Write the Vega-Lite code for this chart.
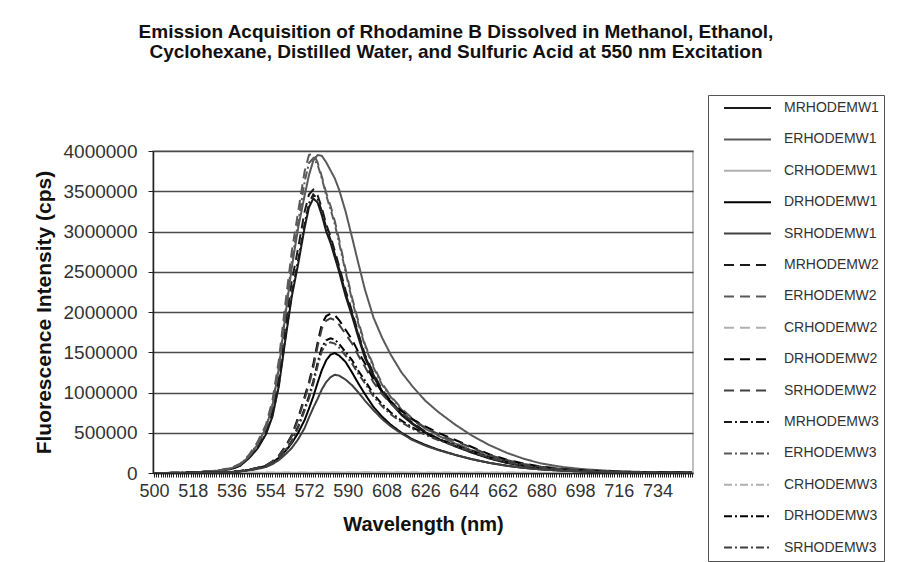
{
"$schema": "https://vega.github.io/schema/vega-lite/v6.json",
"width": 540, "height": 322,
"autosize": {"type": "none"},
"padding": {"left": 153, "top": 151, "right": 218, "bottom": 89},
"background": "white",
"config": {
 "font": "Liberation Sans",
 "view": {"stroke": "#aaaaaa", "strokeWidth": 1.5},
 "legend": {"orient": "none", "legendX": 555, "legendY": -56, "symbolType": "stroke", "symbolSize": 2209, "symbolStrokeWidth": 2, "labelFontSize": 14, "labelColor": "#333333", "labelOffset": 12, "clipHeight": 16, "rowPadding": 15.4, "padding": 5, "symbolOffset": 10, "strokeColor": "#555555", "labelLimit": 300}
},
"title": {"text": ["Emission Acquisition of Rhodamine B Dissolved in Methanol, Ethanol,", "Cyclohexane, Distilled Water, and Sulfuric Acid at 550 nm Excitation"], "fontSize": 19, "fontWeight": "bold", "color": "#111111", "anchor": "middle", "dx": 33, "offset": 33, "lineHeight": 20},
"data": {"values": [
{"s":"CRHODEMW1","w":500,"v":0},{"s":"CRHODEMW1","w":550,"v":3000},{"s":"CRHODEMW1","w":600,"v":6000},{"s":"CRHODEMW1","w":650,"v":3000},{"s":"CRHODEMW1","w":700,"v":1000},{"s":"CRHODEMW1","w":750,"v":0},
{"s":"CRHODEMW2","w":500,"v":0},{"s":"CRHODEMW2","w":550,"v":2000},{"s":"CRHODEMW2","w":600,"v":5000},{"s":"CRHODEMW2","w":650,"v":2000},{"s":"CRHODEMW2","w":700,"v":1000},{"s":"CRHODEMW2","w":750,"v":0},
{"s":"CRHODEMW3","w":500,"v":0},{"s":"CRHODEMW3","w":550,"v":2000},{"s":"CRHODEMW3","w":600,"v":4000},{"s":"CRHODEMW3","w":650,"v":2000},{"s":"CRHODEMW3","w":700,"v":1000},{"s":"CRHODEMW3","w":750,"v":0},
{"s":"MRHODEMW1","w":500,"v":0},{"s":"MRHODEMW1","w":510,"v":2000},{"s":"MRHODEMW1","w":520,"v":8000},{"s":"MRHODEMW1","w":530,"v":25000},{"s":"MRHODEMW1","w":536,"v":50000},{"s":"MRHODEMW1","w":540,"v":90000},{"s":"MRHODEMW1","w":544,"v":180000},{"s":"MRHODEMW1","w":548,"v":300000},{"s":"MRHODEMW1","w":552,"v":480000},{"s":"MRHODEMW1","w":555,"v":700000},{"s":"MRHODEMW1","w":558,"v":1080000},{"s":"MRHODEMW1","w":561,"v":1650000},{"s":"MRHODEMW1","w":564,"v":2190000},{"s":"MRHODEMW1","w":567,"v":2600000},{"s":"MRHODEMW1","w":570,"v":3050000},{"s":"MRHODEMW1","w":572,"v":3300000},{"s":"MRHODEMW1","w":574,"v":3410000},{"s":"MRHODEMW1","w":576,"v":3360000},{"s":"MRHODEMW1","w":578,"v":3200000},{"s":"MRHODEMW1","w":580,"v":3000000},{"s":"MRHODEMW1","w":582,"v":2860000},{"s":"MRHODEMW1","w":584,"v":2680000},{"s":"MRHODEMW1","w":586,"v":2500000},{"s":"MRHODEMW1","w":589,"v":2200000},{"s":"MRHODEMW1","w":592,"v":1950000},{"s":"MRHODEMW1","w":595,"v":1680000},{"s":"MRHODEMW1","w":598,"v":1430000},{"s":"MRHODEMW1","w":602,"v":1200000},{"s":"MRHODEMW1","w":606,"v":1000000},{"s":"MRHODEMW1","w":610,"v":870000},{"s":"MRHODEMW1","w":615,"v":720000},{"s":"MRHODEMW1","w":620,"v":610000},{"s":"MRHODEMW1","w":626,"v":500000},{"s":"MRHODEMW1","w":632,"v":420000},{"s":"MRHODEMW1","w":640,"v":330000},{"s":"MRHODEMW1","w":648,"v":250000},{"s":"MRHODEMW1","w":656,"v":180000},{"s":"MRHODEMW1","w":664,"v":125000},{"s":"MRHODEMW1","w":672,"v":88000},{"s":"MRHODEMW1","w":680,"v":60000},{"s":"MRHODEMW1","w":690,"v":38000},{"s":"MRHODEMW1","w":700,"v":24000},{"s":"MRHODEMW1","w":715,"v":13000},{"s":"MRHODEMW1","w":730,"v":7000},{"s":"MRHODEMW1","w":750,"v":3000},
{"s":"MRHODEMW2","w":500,"v":0},{"s":"MRHODEMW2","w":510,"v":2200},{"s":"MRHODEMW2","w":520,"v":9000},{"s":"MRHODEMW2","w":530,"v":28000},{"s":"MRHODEMW2","w":536,"v":56000},{"s":"MRHODEMW2","w":540,"v":100000},{"s":"MRHODEMW2","w":544,"v":200000},{"s":"MRHODEMW2","w":548,"v":330000},{"s":"MRHODEMW2","w":552,"v":530000},{"s":"MRHODEMW2","w":555,"v":780000},{"s":"MRHODEMW2","w":558,"v":1200000},{"s":"MRHODEMW2","w":561,"v":1820000},{"s":"MRHODEMW2","w":564,"v":2380000},{"s":"MRHODEMW2","w":567,"v":2800000},{"s":"MRHODEMW2","w":570,"v":3250000},{"s":"MRHODEMW2","w":572,"v":3460000},{"s":"MRHODEMW2","w":574,"v":3520000},{"s":"MRHODEMW2","w":576,"v":3450000},{"s":"MRHODEMW2","w":578,"v":3290000},{"s":"MRHODEMW2","w":580,"v":3090000},{"s":"MRHODEMW2","w":582,"v":2940000},{"s":"MRHODEMW2","w":584,"v":2760000},{"s":"MRHODEMW2","w":586,"v":2570000},{"s":"MRHODEMW2","w":589,"v":2270000},{"s":"MRHODEMW2","w":592,"v":2010000},{"s":"MRHODEMW2","w":595,"v":1730000},{"s":"MRHODEMW2","w":598,"v":1470000},{"s":"MRHODEMW2","w":602,"v":1240000},{"s":"MRHODEMW2","w":606,"v":1030000},{"s":"MRHODEMW2","w":610,"v":900000},{"s":"MRHODEMW2","w":615,"v":740000},{"s":"MRHODEMW2","w":620,"v":630000},{"s":"MRHODEMW2","w":626,"v":515000},{"s":"MRHODEMW2","w":632,"v":430000},{"s":"MRHODEMW2","w":640,"v":340000},{"s":"MRHODEMW2","w":648,"v":258000},{"s":"MRHODEMW2","w":656,"v":185000},{"s":"MRHODEMW2","w":664,"v":129000},{"s":"MRHODEMW2","w":672,"v":90000},{"s":"MRHODEMW2","w":680,"v":62000},{"s":"MRHODEMW2","w":690,"v":39000},{"s":"MRHODEMW2","w":700,"v":25000},{"s":"MRHODEMW2","w":715,"v":13000},{"s":"MRHODEMW2","w":730,"v":7000},{"s":"MRHODEMW2","w":750,"v":3000},
{"s":"MRHODEMW3","w":500,"v":0},{"s":"MRHODEMW3","w":510,"v":2000},{"s":"MRHODEMW3","w":520,"v":8000},{"s":"MRHODEMW3","w":530,"v":26000},{"s":"MRHODEMW3","w":536,"v":51000},{"s":"MRHODEMW3","w":540,"v":92000},{"s":"MRHODEMW3","w":544,"v":185000},{"s":"MRHODEMW3","w":548,"v":305000},{"s":"MRHODEMW3","w":552,"v":490000},{"s":"MRHODEMW3","w":555,"v":715000},{"s":"MRHODEMW3","w":558,"v":1100000},{"s":"MRHODEMW3","w":561,"v":1680000},{"s":"MRHODEMW3","w":564,"v":2230000},{"s":"MRHODEMW3","w":567,"v":2650000},{"s":"MRHODEMW3","w":570,"v":3100000},{"s":"MRHODEMW3","w":572,"v":3350000},{"s":"MRHODEMW3","w":574,"v":3460000},{"s":"MRHODEMW3","w":576,"v":3410000},{"s":"MRHODEMW3","w":578,"v":3250000},{"s":"MRHODEMW3","w":580,"v":3050000},{"s":"MRHODEMW3","w":582,"v":2900000},{"s":"MRHODEMW3","w":584,"v":2720000},{"s":"MRHODEMW3","w":586,"v":2540000},{"s":"MRHODEMW3","w":589,"v":2230000},{"s":"MRHODEMW3","w":592,"v":1980000},{"s":"MRHODEMW3","w":595,"v":1710000},{"s":"MRHODEMW3","w":598,"v":1450000},{"s":"MRHODEMW3","w":602,"v":1220000},{"s":"MRHODEMW3","w":606,"v":1015000},{"s":"MRHODEMW3","w":610,"v":880000},{"s":"MRHODEMW3","w":615,"v":730000},{"s":"MRHODEMW3","w":620,"v":620000},{"s":"MRHODEMW3","w":626,"v":508000},{"s":"MRHODEMW3","w":632,"v":426000},{"s":"MRHODEMW3","w":640,"v":335000},{"s":"MRHODEMW3","w":648,"v":254000},{"s":"MRHODEMW3","w":656,"v":183000},{"s":"MRHODEMW3","w":664,"v":127000},{"s":"MRHODEMW3","w":672,"v":89000},{"s":"MRHODEMW3","w":680,"v":61000},{"s":"MRHODEMW3","w":690,"v":39000},{"s":"MRHODEMW3","w":700,"v":24000},{"s":"MRHODEMW3","w":715,"v":13000},{"s":"MRHODEMW3","w":730,"v":7000},{"s":"MRHODEMW3","w":750,"v":3000},
{"s":"ERHODEMW1","w":500,"v":0},{"s":"ERHODEMW1","w":510,"v":2500},{"s":"ERHODEMW1","w":520,"v":10000},{"s":"ERHODEMW1","w":530,"v":30000},{"s":"ERHODEMW1","w":536,"v":60000},{"s":"ERHODEMW1","w":540,"v":105000},{"s":"ERHODEMW1","w":544,"v":200000},{"s":"ERHODEMW1","w":548,"v":350000},{"s":"ERHODEMW1","w":552,"v":560000},{"s":"ERHODEMW1","w":555,"v":830000},{"s":"ERHODEMW1","w":558,"v":1300000},{"s":"ERHODEMW1","w":561,"v":1950000},{"s":"ERHODEMW1","w":564,"v":2550000},{"s":"ERHODEMW1","w":567,"v":3050000},{"s":"ERHODEMW1","w":570,"v":3450000},{"s":"ERHODEMW1","w":572,"v":3700000},{"s":"ERHODEMW1","w":574,"v":3880000},{"s":"ERHODEMW1","w":576,"v":3950000},{"s":"ERHODEMW1","w":578,"v":3940000},{"s":"ERHODEMW1","w":580,"v":3860000},{"s":"ERHODEMW1","w":582,"v":3760000},{"s":"ERHODEMW1","w":584,"v":3660000},{"s":"ERHODEMW1","w":586,"v":3520000},{"s":"ERHODEMW1","w":589,"v":3250000},{"s":"ERHODEMW1","w":592,"v":2930000},{"s":"ERHODEMW1","w":595,"v":2600000},{"s":"ERHODEMW1","w":598,"v":2280000},{"s":"ERHODEMW1","w":602,"v":1930000},{"s":"ERHODEMW1","w":606,"v":1680000},{"s":"ERHODEMW1","w":610,"v":1470000},{"s":"ERHODEMW1","w":615,"v":1250000},{"s":"ERHODEMW1","w":620,"v":1080000},{"s":"ERHODEMW1","w":626,"v":900000},{"s":"ERHODEMW1","w":632,"v":760000},{"s":"ERHODEMW1","w":640,"v":600000},{"s":"ERHODEMW1","w":648,"v":460000},{"s":"ERHODEMW1","w":656,"v":345000},{"s":"ERHODEMW1","w":664,"v":250000},{"s":"ERHODEMW1","w":672,"v":175000},{"s":"ERHODEMW1","w":680,"v":118000},{"s":"ERHODEMW1","w":690,"v":74000},{"s":"ERHODEMW1","w":700,"v":46000},{"s":"ERHODEMW1","w":715,"v":22000},{"s":"ERHODEMW1","w":730,"v":11000},{"s":"ERHODEMW1","w":750,"v":5000},
{"s":"ERHODEMW2","w":500,"v":0},{"s":"ERHODEMW2","w":510,"v":2500},{"s":"ERHODEMW2","w":520,"v":10000},{"s":"ERHODEMW2","w":530,"v":32000},{"s":"ERHODEMW2","w":536,"v":65000},{"s":"ERHODEMW2","w":540,"v":115000},{"s":"ERHODEMW2","w":544,"v":220000},{"s":"ERHODEMW2","w":548,"v":380000},{"s":"ERHODEMW2","w":552,"v":600000},{"s":"ERHODEMW2","w":555,"v":900000},{"s":"ERHODEMW2","w":558,"v":1400000},{"s":"ERHODEMW2","w":561,"v":2100000},{"s":"ERHODEMW2","w":564,"v":2750000},{"s":"ERHODEMW2","w":567,"v":3250000},{"s":"ERHODEMW2","w":570,"v":3750000},{"s":"ERHODEMW2","w":572,"v":3950000},{"s":"ERHODEMW2","w":574,"v":3970000},{"s":"ERHODEMW2","w":576,"v":3860000},{"s":"ERHODEMW2","w":578,"v":3680000},{"s":"ERHODEMW2","w":580,"v":3480000},{"s":"ERHODEMW2","w":582,"v":3320000},{"s":"ERHODEMW2","w":584,"v":3130000},{"s":"ERHODEMW2","w":586,"v":2900000},{"s":"ERHODEMW2","w":589,"v":2530000},{"s":"ERHODEMW2","w":592,"v":2180000},{"s":"ERHODEMW2","w":595,"v":1880000},{"s":"ERHODEMW2","w":598,"v":1600000},{"s":"ERHODEMW2","w":602,"v":1330000},{"s":"ERHODEMW2","w":606,"v":1110000},{"s":"ERHODEMW2","w":610,"v":960000},{"s":"ERHODEMW2","w":615,"v":800000},{"s":"ERHODEMW2","w":620,"v":680000},{"s":"ERHODEMW2","w":626,"v":560000},{"s":"ERHODEMW2","w":632,"v":470000},{"s":"ERHODEMW2","w":640,"v":370000},{"s":"ERHODEMW2","w":648,"v":280000},{"s":"ERHODEMW2","w":656,"v":205000},{"s":"ERHODEMW2","w":664,"v":145000},{"s":"ERHODEMW2","w":672,"v":100000},{"s":"ERHODEMW2","w":680,"v":70000},{"s":"ERHODEMW2","w":690,"v":44000},{"s":"ERHODEMW2","w":700,"v":28000},{"s":"ERHODEMW2","w":715,"v":15000},{"s":"ERHODEMW2","w":730,"v":8000},{"s":"ERHODEMW2","w":750,"v":3500},
{"s":"ERHODEMW3","w":500,"v":0},{"s":"ERHODEMW3","w":510,"v":2400},{"s":"ERHODEMW3","w":520,"v":9500},{"s":"ERHODEMW3","w":530,"v":30000},{"s":"ERHODEMW3","w":536,"v":61000},{"s":"ERHODEMW3","w":540,"v":108000},{"s":"ERHODEMW3","w":544,"v":207000},{"s":"ERHODEMW3","w":548,"v":358000},{"s":"ERHODEMW3","w":552,"v":565000},{"s":"ERHODEMW3","w":555,"v":850000},{"s":"ERHODEMW3","w":558,"v":1320000},{"s":"ERHODEMW3","w":561,"v":1990000},{"s":"ERHODEMW3","w":564,"v":2620000},{"s":"ERHODEMW3","w":567,"v":3120000},{"s":"ERHODEMW3","w":570,"v":3620000},{"s":"ERHODEMW3","w":572,"v":3850000},{"s":"ERHODEMW3","w":574,"v":3910000},{"s":"ERHODEMW3","w":576,"v":3830000},{"s":"ERHODEMW3","w":578,"v":3660000},{"s":"ERHODEMW3","w":580,"v":3450000},{"s":"ERHODEMW3","w":582,"v":3280000},{"s":"ERHODEMW3","w":584,"v":3090000},{"s":"ERHODEMW3","w":586,"v":2860000},{"s":"ERHODEMW3","w":589,"v":2500000},{"s":"ERHODEMW3","w":592,"v":2150000},{"s":"ERHODEMW3","w":595,"v":1850000},{"s":"ERHODEMW3","w":598,"v":1580000},{"s":"ERHODEMW3","w":602,"v":1310000},{"s":"ERHODEMW3","w":606,"v":1095000},{"s":"ERHODEMW3","w":610,"v":945000},{"s":"ERHODEMW3","w":615,"v":790000},{"s":"ERHODEMW3","w":620,"v":670000},{"s":"ERHODEMW3","w":626,"v":552000},{"s":"ERHODEMW3","w":632,"v":463000},{"s":"ERHODEMW3","w":640,"v":365000},{"s":"ERHODEMW3","w":648,"v":276000},{"s":"ERHODEMW3","w":656,"v":202000},{"s":"ERHODEMW3","w":664,"v":143000},{"s":"ERHODEMW3","w":672,"v":99000},{"s":"ERHODEMW3","w":680,"v":69000},{"s":"ERHODEMW3","w":690,"v":43000},{"s":"ERHODEMW3","w":700,"v":28000},{"s":"ERHODEMW3","w":715,"v":15000},{"s":"ERHODEMW3","w":730,"v":8000},{"s":"ERHODEMW3","w":750,"v":3500},
{"s":"DRHODEMW1","w":500,"v":0},{"s":"DRHODEMW1","w":510,"v":800},{"s":"DRHODEMW1","w":520,"v":2500},{"s":"DRHODEMW1","w":530,"v":7000},{"s":"DRHODEMW1","w":536,"v":13000},{"s":"DRHODEMW1","w":540,"v":22000},{"s":"DRHODEMW1","w":544,"v":38000},{"s":"DRHODEMW1","w":548,"v":60000},{"s":"DRHODEMW1","w":552,"v":90000},{"s":"DRHODEMW1","w":555,"v":130000},{"s":"DRHODEMW1","w":558,"v":190000},{"s":"DRHODEMW1","w":561,"v":270000},{"s":"DRHODEMW1","w":564,"v":370000},{"s":"DRHODEMW1","w":567,"v":500000},{"s":"DRHODEMW1","w":570,"v":660000},{"s":"DRHODEMW1","w":572,"v":800000},{"s":"DRHODEMW1","w":574,"v":950000},{"s":"DRHODEMW1","w":576,"v":1120000},{"s":"DRHODEMW1","w":578,"v":1280000},{"s":"DRHODEMW1","w":580,"v":1400000},{"s":"DRHODEMW1","w":582,"v":1470000},{"s":"DRHODEMW1","w":584,"v":1490000},{"s":"DRHODEMW1","w":586,"v":1460000},{"s":"DRHODEMW1","w":589,"v":1380000},{"s":"DRHODEMW1","w":592,"v":1250000},{"s":"DRHODEMW1","w":595,"v":1110000},{"s":"DRHODEMW1","w":598,"v":980000},{"s":"DRHODEMW1","w":602,"v":820000},{"s":"DRHODEMW1","w":606,"v":700000},{"s":"DRHODEMW1","w":610,"v":600000},{"s":"DRHODEMW1","w":615,"v":500000},{"s":"DRHODEMW1","w":620,"v":420000},{"s":"DRHODEMW1","w":626,"v":350000},{"s":"DRHODEMW1","w":632,"v":290000},{"s":"DRHODEMW1","w":640,"v":225000},{"s":"DRHODEMW1","w":648,"v":170000},{"s":"DRHODEMW1","w":656,"v":125000},{"s":"DRHODEMW1","w":664,"v":90000},{"s":"DRHODEMW1","w":672,"v":63000},{"s":"DRHODEMW1","w":680,"v":44000},{"s":"DRHODEMW1","w":690,"v":28000},{"s":"DRHODEMW1","w":700,"v":18000},{"s":"DRHODEMW1","w":715,"v":10000},{"s":"DRHODEMW1","w":730,"v":5000},{"s":"DRHODEMW1","w":750,"v":2000},
{"s":"DRHODEMW2","w":500,"v":0},{"s":"DRHODEMW2","w":510,"v":1000},{"s":"DRHODEMW2","w":520,"v":3000},{"s":"DRHODEMW2","w":530,"v":8000},{"s":"DRHODEMW2","w":536,"v":15000},{"s":"DRHODEMW2","w":540,"v":26000},{"s":"DRHODEMW2","w":544,"v":42000},{"s":"DRHODEMW2","w":548,"v":65000},{"s":"DRHODEMW2","w":552,"v":95000},{"s":"DRHODEMW2","w":555,"v":145000},{"s":"DRHODEMW2","w":558,"v":215000},{"s":"DRHODEMW2","w":561,"v":330000},{"s":"DRHODEMW2","w":564,"v":470000},{"s":"DRHODEMW2","w":567,"v":690000},{"s":"DRHODEMW2","w":570,"v":950000},{"s":"DRHODEMW2","w":572,"v":1130000},{"s":"DRHODEMW2","w":574,"v":1350000},{"s":"DRHODEMW2","w":576,"v":1620000},{"s":"DRHODEMW2","w":578,"v":1850000},{"s":"DRHODEMW2","w":580,"v":1950000},{"s":"DRHODEMW2","w":582,"v":1980000},{"s":"DRHODEMW2","w":584,"v":1960000},{"s":"DRHODEMW2","w":586,"v":1900000},{"s":"DRHODEMW2","w":589,"v":1780000},{"s":"DRHODEMW2","w":592,"v":1660000},{"s":"DRHODEMW2","w":595,"v":1500000},{"s":"DRHODEMW2","w":598,"v":1360000},{"s":"DRHODEMW2","w":602,"v":1160000},{"s":"DRHODEMW2","w":606,"v":1010000},{"s":"DRHODEMW2","w":610,"v":890000},{"s":"DRHODEMW2","w":615,"v":770000},{"s":"DRHODEMW2","w":620,"v":670000},{"s":"DRHODEMW2","w":626,"v":580000},{"s":"DRHODEMW2","w":632,"v":500000},{"s":"DRHODEMW2","w":640,"v":410000},{"s":"DRHODEMW2","w":648,"v":320000},{"s":"DRHODEMW2","w":656,"v":230000},{"s":"DRHODEMW2","w":664,"v":165000},{"s":"DRHODEMW2","w":672,"v":115000},{"s":"DRHODEMW2","w":680,"v":80000},{"s":"DRHODEMW2","w":690,"v":50000},{"s":"DRHODEMW2","w":700,"v":32000},{"s":"DRHODEMW2","w":715,"v":17000},{"s":"DRHODEMW2","w":730,"v":9000},{"s":"DRHODEMW2","w":750,"v":4000},
{"s":"DRHODEMW3","w":500,"v":0},{"s":"DRHODEMW3","w":510,"v":850},{"s":"DRHODEMW3","w":520,"v":2500},{"s":"DRHODEMW3","w":530,"v":6800},{"s":"DRHODEMW3","w":536,"v":12700},{"s":"DRHODEMW3","w":540,"v":22000},{"s":"DRHODEMW3","w":544,"v":35500},{"s":"DRHODEMW3","w":548,"v":55000},{"s":"DRHODEMW3","w":552,"v":80000},{"s":"DRHODEMW3","w":555,"v":122500},{"s":"DRHODEMW3","w":558,"v":181700},{"s":"DRHODEMW3","w":561,"v":278900},{"s":"DRHODEMW3","w":564,"v":397000},{"s":"DRHODEMW3","w":567,"v":583000},{"s":"DRHODEMW3","w":570,"v":802800},{"s":"DRHODEMW3","w":572,"v":954900},{"s":"DRHODEMW3","w":574,"v":1140800},{"s":"DRHODEMW3","w":576,"v":1368900},{"s":"DRHODEMW3","w":578,"v":1563300},{"s":"DRHODEMW3","w":580,"v":1647800},{"s":"DRHODEMW3","w":582,"v":1673100},{"s":"DRHODEMW3","w":584,"v":1656200},{"s":"DRHODEMW3","w":586,"v":1605500},{"s":"DRHODEMW3","w":589,"v":1504100},{"s":"DRHODEMW3","w":592,"v":1402700},{"s":"DRHODEMW3","w":595,"v":1267500},{"s":"DRHODEMW3","w":598,"v":1149200},{"s":"DRHODEMW3","w":602,"v":980200},{"s":"DRHODEMW3","w":606,"v":853500},{"s":"DRHODEMW3","w":610,"v":752100},{"s":"DRHODEMW3","w":615,"v":650700},{"s":"DRHODEMW3","w":620,"v":566200},{"s":"DRHODEMW3","w":626,"v":490100},{"s":"DRHODEMW3","w":632,"v":422500},{"s":"DRHODEMW3","w":640,"v":346500},{"s":"DRHODEMW3","w":648,"v":270400},{"s":"DRHODEMW3","w":656,"v":194400},{"s":"DRHODEMW3","w":664,"v":139400},{"s":"DRHODEMW3","w":672,"v":97200},{"s":"DRHODEMW3","w":680,"v":67600},{"s":"DRHODEMW3","w":690,"v":42300},{"s":"DRHODEMW3","w":700,"v":27000},{"s":"DRHODEMW3","w":715,"v":14400},{"s":"DRHODEMW3","w":730,"v":7600},{"s":"DRHODEMW3","w":750,"v":3400},
{"s":"SRHODEMW1","w":500,"v":0},{"s":"SRHODEMW1","w":510,"v":700},{"s":"SRHODEMW1","w":520,"v":2000},{"s":"SRHODEMW1","w":530,"v":6000},{"s":"SRHODEMW1","w":536,"v":11000},{"s":"SRHODEMW1","w":540,"v":19000},{"s":"SRHODEMW1","w":544,"v":32000},{"s":"SRHODEMW1","w":548,"v":50000},{"s":"SRHODEMW1","w":552,"v":75000},{"s":"SRHODEMW1","w":555,"v":110000},{"s":"SRHODEMW1","w":558,"v":160000},{"s":"SRHODEMW1","w":561,"v":230000},{"s":"SRHODEMW1","w":564,"v":310000},{"s":"SRHODEMW1","w":567,"v":420000},{"s":"SRHODEMW1","w":570,"v":560000},{"s":"SRHODEMW1","w":572,"v":690000},{"s":"SRHODEMW1","w":574,"v":810000},{"s":"SRHODEMW1","w":576,"v":920000},{"s":"SRHODEMW1","w":578,"v":1040000},{"s":"SRHODEMW1","w":580,"v":1130000},{"s":"SRHODEMW1","w":582,"v":1190000},{"s":"SRHODEMW1","w":584,"v":1220000},{"s":"SRHODEMW1","w":586,"v":1210000},{"s":"SRHODEMW1","w":589,"v":1160000},{"s":"SRHODEMW1","w":592,"v":1090000},{"s":"SRHODEMW1","w":595,"v":1000000},{"s":"SRHODEMW1","w":598,"v":900000},{"s":"SRHODEMW1","w":602,"v":780000},{"s":"SRHODEMW1","w":606,"v":670000},{"s":"SRHODEMW1","w":610,"v":580000},{"s":"SRHODEMW1","w":615,"v":490000},{"s":"SRHODEMW1","w":620,"v":410000},{"s":"SRHODEMW1","w":626,"v":340000},{"s":"SRHODEMW1","w":632,"v":285000},{"s":"SRHODEMW1","w":640,"v":225000},{"s":"SRHODEMW1","w":648,"v":170000},{"s":"SRHODEMW1","w":656,"v":125000},{"s":"SRHODEMW1","w":664,"v":90000},{"s":"SRHODEMW1","w":672,"v":63000},{"s":"SRHODEMW1","w":680,"v":44000},{"s":"SRHODEMW1","w":690,"v":28000},{"s":"SRHODEMW1","w":700,"v":18000},{"s":"SRHODEMW1","w":715,"v":10000},{"s":"SRHODEMW1","w":730,"v":5000},{"s":"SRHODEMW1","w":750,"v":2000},
{"s":"SRHODEMW2","w":500,"v":0},{"s":"SRHODEMW2","w":510,"v":1000},{"s":"SRHODEMW2","w":520,"v":2900},{"s":"SRHODEMW2","w":530,"v":7800},{"s":"SRHODEMW2","w":536,"v":14500},{"s":"SRHODEMW2","w":540,"v":25000},{"s":"SRHODEMW2","w":544,"v":41000},{"s":"SRHODEMW2","w":548,"v":63000},{"s":"SRHODEMW2","w":552,"v":92000},{"s":"SRHODEMW2","w":555,"v":141000},{"s":"SRHODEMW2","w":558,"v":209000},{"s":"SRHODEMW2","w":561,"v":320000},{"s":"SRHODEMW2","w":564,"v":456000},{"s":"SRHODEMW2","w":567,"v":669000},{"s":"SRHODEMW2","w":570,"v":922000},{"s":"SRHODEMW2","w":572,"v":1096000},{"s":"SRHODEMW2","w":574,"v":1310000},{"s":"SRHODEMW2","w":576,"v":1571000},{"s":"SRHODEMW2","w":578,"v":1795000},{"s":"SRHODEMW2","w":580,"v":1892000},{"s":"SRHODEMW2","w":582,"v":1921000},{"s":"SRHODEMW2","w":584,"v":1901000},{"s":"SRHODEMW2","w":586,"v":1843000},{"s":"SRHODEMW2","w":589,"v":1727000},{"s":"SRHODEMW2","w":592,"v":1610000},{"s":"SRHODEMW2","w":595,"v":1455000},{"s":"SRHODEMW2","w":598,"v":1319000},{"s":"SRHODEMW2","w":602,"v":1125000},{"s":"SRHODEMW2","w":606,"v":980000},{"s":"SRHODEMW2","w":610,"v":863000},{"s":"SRHODEMW2","w":615,"v":747000},{"s":"SRHODEMW2","w":620,"v":650000},{"s":"SRHODEMW2","w":626,"v":563000},{"s":"SRHODEMW2","w":632,"v":485000},{"s":"SRHODEMW2","w":640,"v":398000},{"s":"SRHODEMW2","w":648,"v":310000},{"s":"SRHODEMW2","w":656,"v":223000},{"s":"SRHODEMW2","w":664,"v":160000},{"s":"SRHODEMW2","w":672,"v":112000},{"s":"SRHODEMW2","w":680,"v":78000},{"s":"SRHODEMW2","w":690,"v":49000},{"s":"SRHODEMW2","w":700,"v":31000},{"s":"SRHODEMW2","w":715,"v":16500},{"s":"SRHODEMW2","w":730,"v":8700},{"s":"SRHODEMW2","w":750,"v":3900},
{"s":"SRHODEMW3","w":500,"v":0},{"s":"SRHODEMW3","w":510,"v":820},{"s":"SRHODEMW3","w":520,"v":2460},{"s":"SRHODEMW3","w":530,"v":6560},{"s":"SRHODEMW3","w":536,"v":12300},{"s":"SRHODEMW3","w":540,"v":21300},{"s":"SRHODEMW3","w":544,"v":34400},{"s":"SRHODEMW3","w":548,"v":53300},{"s":"SRHODEMW3","w":552,"v":77900},{"s":"SRHODEMW3","w":555,"v":118900},{"s":"SRHODEMW3","w":558,"v":176300},{"s":"SRHODEMW3","w":561,"v":270600},{"s":"SRHODEMW3","w":564,"v":385400},{"s":"SRHODEMW3","w":567,"v":565800},{"s":"SRHODEMW3","w":570,"v":779000},{"s":"SRHODEMW3","w":572,"v":926600},{"s":"SRHODEMW3","w":574,"v":1107000},{"s":"SRHODEMW3","w":576,"v":1328400},{"s":"SRHODEMW3","w":578,"v":1517000},{"s":"SRHODEMW3","w":580,"v":1599000},{"s":"SRHODEMW3","w":582,"v":1623600},{"s":"SRHODEMW3","w":584,"v":1607200},{"s":"SRHODEMW3","w":586,"v":1558000},{"s":"SRHODEMW3","w":589,"v":1459600},{"s":"SRHODEMW3","w":592,"v":1361200},{"s":"SRHODEMW3","w":595,"v":1230000},{"s":"SRHODEMW3","w":598,"v":1115200},{"s":"SRHODEMW3","w":602,"v":951200},{"s":"SRHODEMW3","w":606,"v":828200},{"s":"SRHODEMW3","w":610,"v":729800},{"s":"SRHODEMW3","w":615,"v":631400},{"s":"SRHODEMW3","w":620,"v":549400},{"s":"SRHODEMW3","w":626,"v":475600},{"s":"SRHODEMW3","w":632,"v":410000},{"s":"SRHODEMW3","w":640,"v":336200},{"s":"SRHODEMW3","w":648,"v":262400},{"s":"SRHODEMW3","w":656,"v":188600},{"s":"SRHODEMW3","w":664,"v":135300},{"s":"SRHODEMW3","w":672,"v":94300},{"s":"SRHODEMW3","w":680,"v":65600},{"s":"SRHODEMW3","w":690,"v":41000},{"s":"SRHODEMW3","w":700,"v":26200},{"s":"SRHODEMW3","w":715,"v":13900},{"s":"SRHODEMW3","w":730,"v":7400},{"s":"SRHODEMW3","w":750,"v":3300}
]},
"mark": {"type": "line", "strokeWidth": 2, "clip": true},
"encoding": {
 "x": {"field": "w", "type": "quantitative", "title": "Wavelength (nm)",
  "scale": {"domain": [499.5, 750.5], "nice": false, "zero": false},
  "axis": {"values": [500,501,502,503,504,505,506,507,508,509,510,511,512,513,514,515,516,517,518,519,520,521,522,523,524,525,526,527,528,529,530,531,532,533,534,535,536,537,538,539,540,541,542,543,544,545,546,547,548,549,550,551,552,553,554,555,556,557,558,559,560,561,562,563,564,565,566,567,568,569,570,571,572,573,574,575,576,577,578,579,580,581,582,583,584,585,586,587,588,589,590,591,592,593,594,595,596,597,598,599,600,601,602,603,604,605,606,607,608,609,610,611,612,613,614,615,616,617,618,619,620,621,622,623,624,625,626,627,628,629,630,631,632,633,634,635,636,637,638,639,640,641,642,643,644,645,646,647,648,649,650,651,652,653,654,655,656,657,658,659,660,661,662,663,664,665,666,667,668,669,670,671,672,673,674,675,676,677,678,679,680,681,682,683,684,685,686,687,688,689,690,691,692,693,694,695,696,697,698,699,700,701,702,703,704,705,706,707,708,709,710,711,712,713,714,715,716,717,718,719,720,721,722,723,724,725,726,727,728,729,730,731,732,733,734,735,736,737,738,739,740,741,742,743,744,745,746,747,748,749,750],
   "format": "d", "labelExpr": "(datum.value - 500) % 18 === 0 && datum.value <= 734 ? datum.label : ''",
   "labelOverlap": false, "labelFlush": false, "labelBound": false, "grid": false,
   "labelFontSize": 18, "labelColor": "#333333", "labelPadding": 5,
   "tickSize": 4, "tickColor": "#222222", "tickWidth": 1,
   "domainColor": "#222222", "domainWidth": 1.5,
   "titleFontSize": 20, "titleFontWeight": "bold", "titleColor": "#111111", "titlePadding": 14}},
 "y": {"field": "v", "type": "quantitative", "title": "Fluorescence Intensity (cps)",
  "scale": {"domain": [0, 4000000], "nice": false},
  "axis": {"values": [0,500000,1000000,1500000,2000000,2500000,3000000,3500000,4000000], "format": "d",
   "grid": true, "gridColor": "#4a4a4a", "gridWidth": 1.5,
   "labelFontSize": 19, "labelColor": "#333333", "labelPadding": 11,
   "tickSize": 5, "tickColor": "#222222", "domainColor": "#222222", "domainWidth": 1.5,
   "titleFontSize": 21, "titleFontWeight": "bold", "titleColor": "#111111", "titlePadding": 9}},
 "color": {"field": "s", "type": "nominal", "title": null,
  "scale": {"domain": ["MRHODEMW1","ERHODEMW1","CRHODEMW1","DRHODEMW1","SRHODEMW1","MRHODEMW2","ERHODEMW2","CRHODEMW2","DRHODEMW2","SRHODEMW2","MRHODEMW3","ERHODEMW3","CRHODEMW3","DRHODEMW3","SRHODEMW3"],
   "range": ["#1a1a1a","#5a5a5a","#b0b0b0","#000000","#404040","#1a1a1a","#5a5a5a","#b0b0b0","#000000","#404040","#1a1a1a","#5a5a5a","#b0b0b0","#000000","#404040"]}},
 "strokeDash": {"field": "s", "type": "nominal", "title": null,
  "scale": {"domain": ["MRHODEMW1","ERHODEMW1","CRHODEMW1","DRHODEMW1","SRHODEMW1","MRHODEMW2","ERHODEMW2","CRHODEMW2","DRHODEMW2","SRHODEMW2","MRHODEMW3","ERHODEMW3","CRHODEMW3","DRHODEMW3","SRHODEMW3"],
   "range": [[1,0],[1,0],[1,0],[1,0],[1,0],[10,6],[10,6],[10,6],[10,6],[10,6],[8,3,2,3],[8,3,2,3],[8,3,2,3],[8,3,2,3],[8,3,2,3]]}}
}
}
